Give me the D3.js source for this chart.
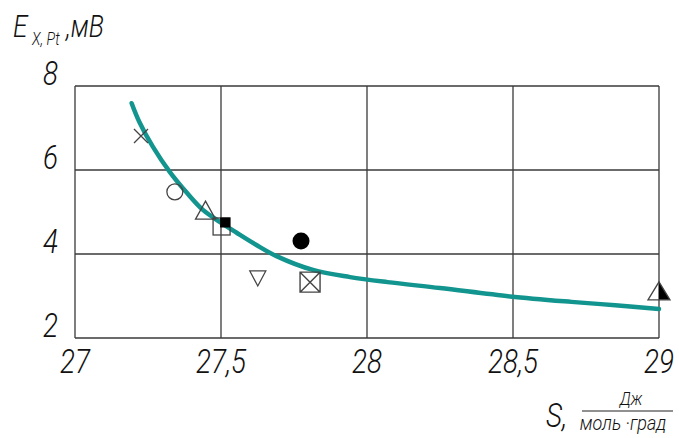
<!DOCTYPE html>
<html><head><meta charset="utf-8">
<script src="https://cdn.jsdelivr.net/npm/d3@7"></script>
<style>
body{margin:0;background:#fff;}
text{font-family:Roboto,"DejaVu Sans",sans-serif;font-style:italic;font-weight:300;fill:#111;}
</style></head>
<body><svg id="c" width="679" height="438"></svg>
<script>
const xTicks = [27, 27.5, 28, 28.5, 29];
const xTickLabels = ["27", "27,5", "28", "28,5", "29"];
const yTicks = [2, 4, 6, 8];
const yTickLabels = ["2", "4", "6", "8"];

const curveX = [27.194, 27.22, 27.267, 27.325, 27.384, 27.438, 27.497, 27.555, 27.62, 27.69, 27.815, 27.942, 28.07, 28.25, 28.49, 28.70, 28.85, 29.0];
const curveY = [7.59, 7.15, 6.55, 5.95, 5.45, 5.05, 4.76, 4.50, 4.22, 3.95, 3.62, 3.45, 3.33, 3.19, 2.99, 2.86, 2.78, 2.69];

const markerX = [27.226, 27.342, 27.447, 27.502, 27.514, 27.774, 27.626, 27.805, 29.0];
const markerY = [6.81, 5.48, 5.02, 4.655, 4.75, 4.31, 3.43, 3.33, 3.10];
const markerType = ["cross", "circle", "triangle", "square", "squareFilled", "dot", "triangleDown", "squareX", "triangleHalf"];

const svg = d3.select("#c");
const x = d3.scaleLinear().domain([27, 29]).range([75, 659]);
const y = d3.scaleLinear().domain([2, 8]).range([338, 86]);
const gridColor = "#3a3a3a";

function addText(px, py, str, size, anchor, sx) {
  return svg.append("text")
    .attr("transform", `translate(${px},${py}) scale(${sx || 0.82},1)`)
    .attr("text-anchor", anchor || "start")
    .attr("font-size", size).text(str);
}

// grid
const g = svg.append("g");
xTicks.forEach(t => g.append("line").attr("x1", x(t)).attr("x2", x(t)).attr("y1", y(2)).attr("y2", y(8))
  .attr("stroke", gridColor).attr("stroke-width", 1.3));
yTicks.forEach(t => g.append("line").attr("x1", x(27)).attr("x2", x(29)).attr("y1", y(t)).attr("y2", y(t))
  .attr("stroke", gridColor).attr("stroke-width", 1.3));

// tick labels
xTicks.forEach((t, i) => addText(x(t), 373, xTickLabels[i], 34, "middle"));
yTicks.forEach((t, i) => addText(58, y(t) - 1, yTickLabels[i], 34, "end"));

// curve
const pts = curveX.map((v, i) => [x(v), y(curveY[i])]);
svg.append("path").attr("d", d3.line().curve(d3.curveCatmullRom.alpha(0.5))(pts))
  .attr("fill", "none").attr("stroke", "#12948f").attr("stroke-width", 4.5).attr("stroke-linecap", "round");

// markers
const mk = svg.append("g");
markerType.forEach((tp, i) => {
  const cx = x(markerX[i]), cy = y(markerY[i]);
  const st = "#444";
  if (tp === "cross") {
    mk.append("path").attr("d", `M${cx-7},${cy-7}L${cx+7},${cy+7}M${cx-7},${cy+7}L${cx+7},${cy-7}`)
      .attr("stroke", st).attr("stroke-width", 1.3);
  } else if (tp === "circle") {
    mk.append("circle").attr("cx", cx).attr("cy", cy).attr("r", 8).attr("fill", "none").attr("stroke", st).attr("stroke-width", 1.3);
  } else if (tp === "triangle") {
    mk.append("path").attr("d", `M${cx},${cy-10}L${cx+10},${cy+8}L${cx-10},${cy+8}Z`)
      .attr("fill", "none").attr("stroke", st).attr("stroke-width", 1.3);
  } else if (tp === "square") {
    mk.append("rect").attr("x", cx-8.5).attr("y", cy-8.5).attr("width", 17).attr("height", 17)
      .attr("fill", "none").attr("stroke", st).attr("stroke-width", 1.3);
  } else if (tp === "squareFilled") {
    mk.append("rect").attr("x", cx-5).attr("y", cy-5).attr("width", 10).attr("height", 10).attr("fill", "#000");
  } else if (tp === "dot") {
    mk.append("circle").attr("cx", cx).attr("cy", cy).attr("r", 8.5).attr("fill", "#000");
  } else if (tp === "triangleDown") {
    mk.append("path").attr("d", `M${cx-8},${cy-7}L${cx+8},${cy-7}L${cx},${cy+8}Z`)
      .attr("fill", "none").attr("stroke", st).attr("stroke-width", 1.3);
  } else if (tp === "squareX") {
    mk.append("path").attr("d", `M${cx-10},${cy-10}H${cx+10}V${cy+10}H${cx-10}Z M${cx-10},${cy-10}L${cx+10},${cy+10}M${cx-10},${cy+10}L${cx+10},${cy-10}`)
      .attr("fill", "none").attr("stroke", st).attr("stroke-width", 1.4);
  } else if (tp === "triangleHalf") {
    mk.append("path").attr("d", `M${cx},${cy-10}L${cx+11},${cy+8}L${cx},${cy+8}Z`).attr("fill", "#000");
    mk.append("path").attr("d", `M${cx},${cy-10}L${cx+11},${cy+8}L${cx-11},${cy+8}Z`)
      .attr("fill", "none").attr("stroke", st).attr("stroke-width", 1.3);
  }
});

// y axis title
addText(13, 37, "E", 32);
addText(32, 45, "X, Pt", 19, "start", 0.75);
addText(66, 37, ",мВ", 31);

// x axis title
addText(546, 427, "S,", 34);
svg.append("line").attr("x1", 582).attr("x2", 673).attr("y1", 411).attr("y2", 411).attr("stroke", "#222").attr("stroke-width", 1.2);
addText(631, 405, "Дж", 19, "middle");
addText(623, 430, "моль ·град", 20, "middle", 0.9);
</script></body></html>
